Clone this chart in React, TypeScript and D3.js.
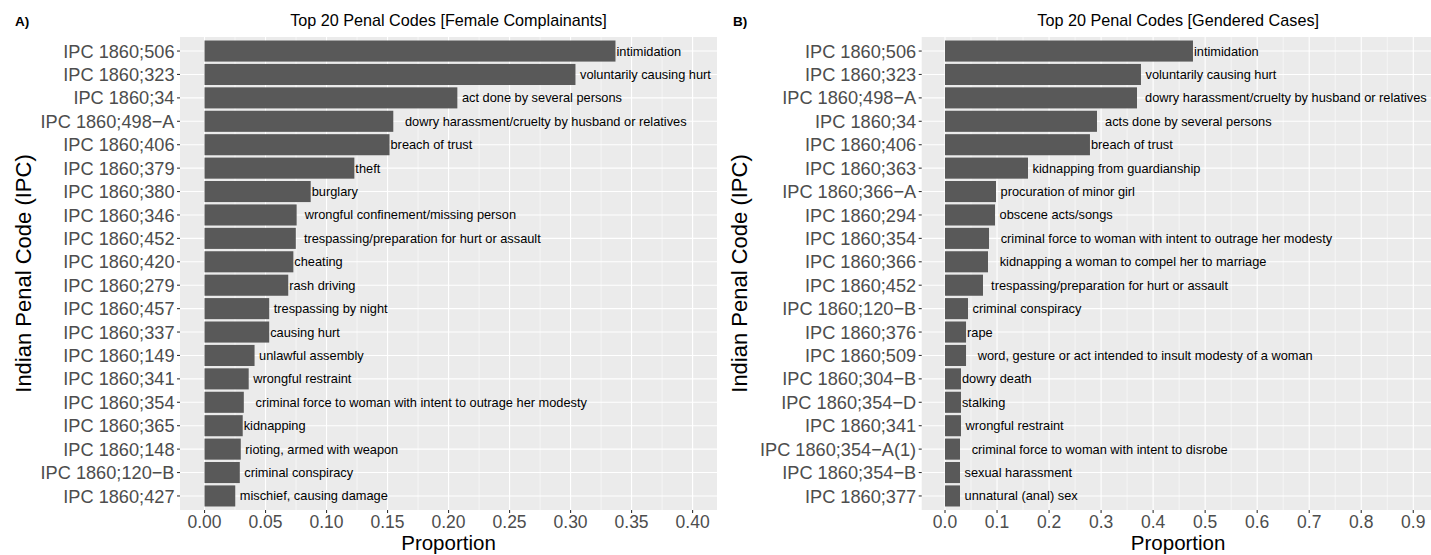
import React from "react";
import * as d3 from "d3";

// ---------- DATA ----------
const femaleCodes = [
  "IPC 1860;506", "IPC 1860;323", "IPC 1860;34", "IPC 1860;498−A", "IPC 1860;406",
  "IPC 1860;379", "IPC 1860;380", "IPC 1860;346", "IPC 1860;452", "IPC 1860;420",
  "IPC 1860;279", "IPC 1860;457", "IPC 1860;337", "IPC 1860;149", "IPC 1860;341",
  "IPC 1860;354", "IPC 1860;365", "IPC 1860;148", "IPC 1860;120−B", "IPC 1860;427",
];
const femaleValues = [
  0.3368, 0.304, 0.2072, 0.1547, 0.1516, 0.1228, 0.0870, 0.0755, 0.0748, 0.0728,
  0.0686, 0.053, 0.053, 0.041, 0.0362, 0.0322, 0.0313, 0.0297, 0.0289, 0.0252,
];
const femaleLabels = [
  "intimidation", " voluntarily causing hurt", " act done by several persons",
  "   dowry harassment/cruelty by husband or relatives", "breach of trust", "theft",
  "burglary", "  wrongful confinement/missing person",
  "  trespassing/preparation for hurt or assault", "cheating", "rash driving",
  " trespassing by night", "causing hurt", " unlawful assembly", " wrongful restraint",
  "   criminal force to woman with intent to outrage her modesty", "kidnapping",
  " rioting, armed with weapon", " criminal conspiracy", " mischief, causing damage",
];
const femaleTicks = [0, 0.05, 0.1, 0.15, 0.2, 0.25, 0.3, 0.35, 0.4];

const genderCodes = [
  "IPC 1860;506", "IPC 1860;323", "IPC 1860;498−A", "IPC 1860;34", "IPC 1860;406",
  "IPC 1860;363", "IPC 1860;366−A", "IPC 1860;294", "IPC 1860;354", "IPC 1860;366",
  "IPC 1860;452", "IPC 1860;120−B", "IPC 1860;376", "IPC 1860;509", "IPC 1860;304−B",
  "IPC 1860;354−D", "IPC 1860;341", "IPC 1860;354−A(1)", "IPC 1860;354−B", "IPC 1860;377",
];
const genderValues = [
  0.4766, 0.3766, 0.369, 0.2921, 0.2786, 0.1595, 0.098, 0.0961, 0.0846, 0.0826,
  0.073, 0.0442, 0.0404, 0.0404, 0.0307, 0.0307, 0.0307, 0.0288, 0.0288, 0.0288,
];
const genderLabels = [
  "intimidation", " voluntarily causing hurt", "  dowry harassment/cruelty by husband or relatives",
  "  acts done by several persons", "breach of trust", " kidnapping from guardianship",
  " procuration of minor girl", " obscene acts/songs",
  "   criminal force to woman with intent to outrage her modesty",
  "   kidnapping a woman to compel her to marriage",
  "  trespassing/preparation for hurt or assault", " criminal conspiracy", "rape",
  "   word, gesture or act intended to insult modesty of a woman", "dowry death",
  "stalking", " wrongful restraint", "   criminal force to woman with intent to disrobe",
  " sexual harassment", " unnatural (anal) sex",
];
const genderTicks = [0, 0.1, 0.2, 0.3, 0.4, 0.5, 0.6, 0.7, 0.8, 0.9];

// ---------- LAYOUT ----------
const W = 1431;
const H = 555;
const FONT = "'Liberation Sans', Arial, Helvetica, sans-serif";
const PANEL_TOP = 37;
const PANEL_BOTTOM = 510;

type PanelProps = {
  codes: string[];
  values: number[];
  labels: string[];
  ticks: number[];
  fmt: string;
  domain: [number, number];
  x0: number;
  x1: number;
  title: string;
  tag: string;
  tagX: number;
  yTitleX: number;
};

function Panel(p: PanelProps) {
  const x = d3.scaleLinear().domain(p.domain).range([p.x0, p.x1]);
  const y = d3
    .scaleBand<string>()
    .domain(p.codes)
    .range([PANEL_TOP, PANEL_BOTTOM])
    .paddingInner(0.1)
    .paddingOuter(0.15);
  const step = p.ticks[1] - p.ticks[0];
  const minor = d3
    .range(-1, p.ticks.length + 1)
    .map((i) => p.ticks[0] + (i + 0.5) * step)
    .filter((v) => v > p.domain[0] && v < p.domain[1]);
  const major = p.ticks.filter((v) => v >= p.domain[0] && v <= p.domain[1]);
  const f = d3.format(p.fmt);
  const cx = (p.x0 + p.x1) / 2;
  const bw = y.bandwidth();
  const yc = (c: string) => (y(c) as number) + bw / 2;
  return (
    <g>
      <rect x={p.x0} y={PANEL_TOP} width={p.x1 - p.x0} height={PANEL_BOTTOM - PANEL_TOP} fill="#EBEBEB" />
      {minor.map((v, i) => (
        <line key={"mn" + i} x1={x(v)} x2={x(v)} y1={PANEL_TOP} y2={PANEL_BOTTOM} stroke="#fff" strokeWidth={0.55} />
      ))}
      {major.map((v, i) => (
        <line key={"mj" + i} x1={x(v)} x2={x(v)} y1={PANEL_TOP} y2={PANEL_BOTTOM} stroke="#fff" strokeWidth={1.1} />
      ))}
      {p.codes.map((c, i) => (
        <line key={"hy" + i} x1={p.x0} x2={p.x1} y1={yc(c)} y2={yc(c)} stroke="#fff" strokeWidth={1.1} />
      ))}
      {p.codes.map((c, i) => (
        <rect key={"b" + i} x={x(0)} y={y(c)} width={x(p.values[i]) - x(0)} height={bw} fill="#595959" />
      ))}
      {p.codes.map((c, i) => (
        <text
          key={"l" + i}
          x={x(p.values[i]) + 1}
          y={yc(c)}
          dy="0.35em"
          fontSize={12.8}
          fill="#000"
          style={{ whiteSpace: "pre" }}
        >
          {p.labels[i]}
        </text>
      ))}
      {/* y axis */}
      {p.codes.map((c, i) => (
        <g key={"yt" + i}>
          <line x1={p.x0 - 3} x2={p.x0} y1={yc(c)} y2={yc(c)} stroke="#333" strokeWidth={1.1} />
          <text x={p.x0 - 5.5} y={yc(c)} dy="0.36em" textAnchor="end" fontSize={18.2} fill="#4D4D4D">
            {c}
          </text>
        </g>
      ))}
      {/* x axis */}
      {major.map((v, i) => (
        <g key={"xt" + i}>
          <line x1={x(v)} x2={x(v)} y1={PANEL_BOTTOM} y2={PANEL_BOTTOM + 3} stroke="#333" strokeWidth={1.1} />
          <text x={x(v)} y={PANEL_BOTTOM + 18} textAnchor="middle" fontSize={17.5} fill="#4D4D4D">
            {f(v)}
          </text>
        </g>
      ))}
      <text x={cx} y={550} textAnchor="middle" fontSize={20.5} fill="#000">
        Proportion
      </text>
      <text
        transform={`translate(${p.yTitleX},${(PANEL_TOP + PANEL_BOTTOM) / 2}) rotate(-90)`}
        textAnchor="middle"
        fontSize={22}
        fill="#000"
      >
        Indian Penal Code (IPC)
      </text>
      <text x={cx} y={26} textAnchor="middle" fontSize={16.2} fill="#000">
        {p.title}
      </text>
      <text x={p.tagX} y={25.5} fontSize={13.5} fontWeight="bold" fill="#000">
        {p.tag}
      </text>
    </g>
  );
}

export default function App() {
  return (
    <svg
      width={W}
      height={H}
      viewBox={`0 0 ${W} ${H}`}
      style={{ position: "absolute", left: 0, top: 0, background: "#fff", fontFamily: FONT }}
    >
      <rect x={0} y={0} width={W} height={H} fill="#fff" />
      <Panel
        codes={femaleCodes}
        values={femaleValues}
        labels={femaleLabels}
        ticks={femaleTicks}
        fmt=".2f"
        domain={[-0.0201, 0.42]}
        x0={180}
        x1={717}
        title="Top 20 Penal Codes [Female Complainants]"
        tag="A)"
        tagX={15}
        yTitleX={31}
      />
      <Panel
        codes={genderCodes}
        values={genderValues}
        labels={genderLabels}
        ticks={genderTicks}
        fmt=".1f"
        domain={[-0.0448, 0.941]}
        x0={921.7}
        x1={1434.6}
        title="Top 20 Penal Codes [Gendered Cases]"
        tag="B)"
        tagX={733}
        yTitleX={747}
      />
    </svg>
  );
}
